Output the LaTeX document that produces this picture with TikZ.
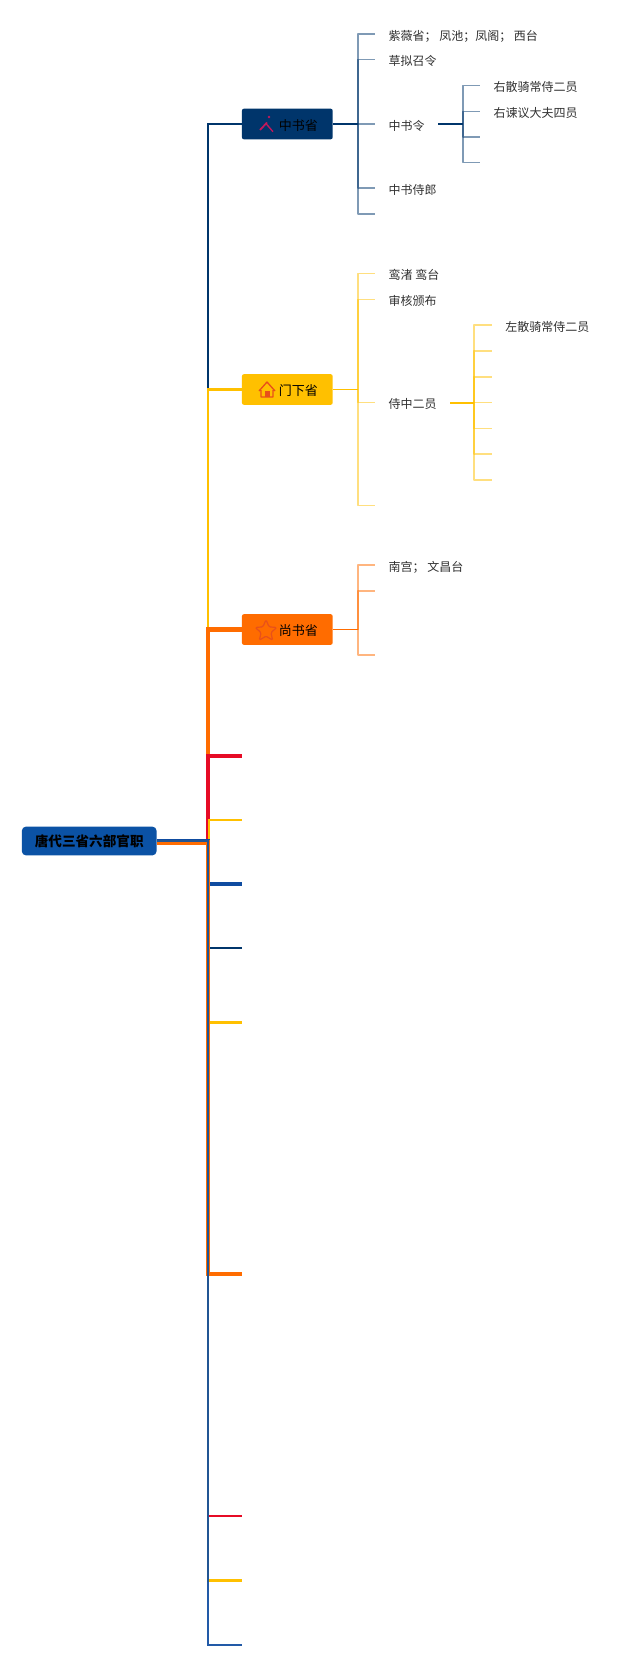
\documentclass[tikz,border=0pt]{standalone}
\usepackage{fontspec}
\setmainfont{Noto Sans CJK SC}
\usetikzlibrary{shapes.geometric}
\definecolor{rootblue}{HTML}{0B52A5}
\definecolor{deepnavy}{HTML}{00356B}
\definecolor{amber}{HTML}{FFC000}
\definecolor{tangerine}{HTML}{FF6C00}
\definecolor{crimson}{HTML}{E60B25}
\definecolor{royal}{HTML}{0F4CA0}
\definecolor{leafink}{HTML}{303030}
\definecolor{wandpink}{HTML}{C2185B}
\definecolor{iconred}{HTML}{E8501A}
\begin{document}
\begin{tikzpicture}[x=.75pt,y=-.75pt,
  rootbox/.style={fill=rootblue, rounded corners=3pt, minimum width=101pt, minimum height=21.5pt, inner sep=0pt, font=\fontsize{10.2}{12}\selectfont\bfseries, text=black},
  branchbox/.style={rounded corners=1.5pt, text width=46pt, inner xsep=11pt, inner ysep=0pt, minimum height=23pt, text height=9.5pt, text depth=.5pt, align=right, font=\fontsize{9.75}{12}\selectfont, text=black},
  leaf/.style={anchor=west, inner xsep=10pt, inner ysep=0pt, text height=9.5pt, text depth=.5pt, font=\fontsize{9}{11}\selectfont, text=leafink},
  mainline/.style={line cap=butt, line join=miter},
  childline/.style={draw opacity=.5, line width=1.1pt, line join=round}]
\useasboundingbox (0,0) rectangle (640,1667);
\node[rootbox] (root) at (89.2,841){唐代三省六部官职};
\coordinate (jroot) at (208,841);
\node[branchbox, fill=deepnavy] (zsbox) at (287.3,124){中书省};
\node[branchbox, fill=amber] (mxbox) at (287.3,389.5){门下省};
\node[branchbox, fill=tangerine] (sgbox) at (287.3,629.5){尚书省};
\coordinate (lb1) at (242,755.7);
\coordinate (lb2) at (242,820);
\coordinate (lb3) at (242,884);
\coordinate (lb4) at (242,948);
\coordinate (lb5) at (242,1022.5);
\coordinate (lb6) at (242,1274);
\coordinate (lb7) at (242,1516);
\coordinate (lb8) at (242,1580.5);
\coordinate (lb9) at (242,1645);
\draw[mainline, deepnavy, line width=1.6pt] (root.east) -- (jroot) |- (zsbox.west);
\draw[mainline, amber, line width=2.2pt] (root.east) -- (jroot) |- (mxbox.west);
\draw[mainline, tangerine, line width=3.4pt] (root.east) -- (jroot) |- (sgbox.west);
\draw[mainline, crimson, line width=3.2pt] (root.east) -- (jroot) |- (lb1);
\draw[mainline, amber, line width=1.8pt] (root.east) -- ([xshift=.8pt]jroot) |- (lb2);
\draw[mainline, royal, line width=2.3pt] (root.east) -- (jroot) |- (lb3);
\draw[mainline, deepnavy, line width=1.8pt] (root.east) -- (jroot) |- (lb4);
\draw[mainline, amber, line width=1.8pt] (root.east) -- (jroot) |- (lb5);
\draw[mainline, tangerine, line width=3.4pt] ([yshift=-1pt]root.east) -- ([yshift=-1pt]jroot) |- (lb6);
\draw[mainline, crimson, line width=2.2pt] (root.east) -- (jroot) |- (lb7);
\draw[mainline, amber, line width=2.2pt] (root.east) -- (jroot) |- (lb8);
\draw[mainline, royal, draw opacity=.92, line width=2.2pt] (root.east) -- (jroot) |- (lb9);
% zhongshu
\coordinate (jzs) at (358,124);
\draw[deepnavy, line width=1.2pt] (zsbox.east) -- (jzs);
\node[leaf] (zs1) at (375,34){紫薇省；\ 凤池；凤阁；\ 西台};
\node[leaf] (zs2) at (375,59.7){草拟召令};
\node[leaf] (zs3) at (375,124){中书令};
\node[leaf] (zs4) at (375,188){中书侍郎};
\coordinate (zs5) at (375,214);
\draw[childline, deepnavy] (jzs) |- (zs1.west);
\draw[childline, deepnavy] (jzs) |- (zs2.west);
\draw[childline, deepnavy] (jzs) -- (zs3.west);
\draw[childline, deepnavy] (jzs) |- (zs4.west);
\draw[childline, deepnavy] (jzs) |- (zs5);
\coordinate (jzl) at (463,124);
\draw[deepnavy, line width=1.2pt] (zs3.east) -- (jzl);
\node[leaf] (zl1) at (480,85.7){右散骑常侍二员};
\node[leaf] (zl2) at (480,111.3){右谏议大夫四员};
\coordinate (zl3) at (480,137);
\coordinate (zl4) at (480,162.7);
\draw[childline, deepnavy] (jzl) |- (zl1.west);
\draw[childline, deepnavy] (jzl) |- (zl2.west);
\draw[childline, deepnavy] (jzl) |- (zl3);
\draw[childline, deepnavy] (jzl) |- (zl4);
% menxia
\coordinate (jmx) at (358,389.5);
\draw[amber, line width=1.2pt] (mxbox.east) -- (jmx);
\node[leaf] (mx1) at (375,273.7){鸾渚 鸾台};
\node[leaf] (mx2) at (375,299.7){审核颁布};
\node[leaf] (mx3) at (375,402.7){侍中二员};
\coordinate (mx4) at (375,505.3);
\draw[childline, amber] (jmx) |- (mx1.west);
\draw[childline, amber] (jmx) |- (mx2.west);
\draw[childline, amber] (jmx) |- (mx3.west);
\draw[childline, amber] (jmx) |- (mx4);
\coordinate (jsz) at (474,402.7);
\draw[amber, line width=1.2pt] (mx3.east) -- (jsz);
\node[leaf] (sz1) at (491.7,325){左散骑常侍二员};
\coordinate (sz2) at (491.7,351);
\coordinate (sz3) at (491.7,377);
\coordinate (sz4) at (491.7,402.7);
\coordinate (sz5) at (491.7,428.3);
\coordinate (sz6) at (491.7,454);
\coordinate (sz7) at (491.7,480);
\draw[childline, amber] (jsz) |- (sz1.west);
\draw[childline, amber] (jsz) |- (sz2);
\draw[childline, amber] (jsz) |- (sz3);
\draw[childline, amber] (jsz) -- (sz4);
\draw[childline, amber] (jsz) |- (sz5);
\draw[childline, amber] (jsz) |- (sz6);
\draw[childline, amber] (jsz) |- (sz7);
% shangshu
\coordinate (jsg) at (358,629.5);
\draw[tangerine, line width=1.2pt] (sgbox.east) -- (jsg);
\node[leaf] (sg1) at (375,565){南宫；\ 文昌台};
\coordinate (sg2) at (375,591);
\coordinate (sg3) at (375,655);
\draw[childline, tangerine] (jsg) |- (sg1.west);
\draw[childline, tangerine] (jsg) |- (sg2);
\draw[childline, tangerine] (jsg) |- (sg3);
% icons
\draw[wandpink, line width=1.3pt] (260,130) -- (267,122.5);
\draw[wandpink, line width=1pt] (265.5,123) -- (273,131.7);
\fill[wandpink] (269,117) circle (1pt);
\draw[iconred, line width=1pt, line join=round] (259,391) -- (267,382) -- (275,391) (261,390) -- (261,397) -- (273,397) -- (273,390);
\fill[iconred] (264.5,391) rectangle (269.5,397);
\node[star, star points=5, star point ratio=2.2, draw=iconred, line width=.9pt, rounded corners=1pt, minimum size=17pt, inner sep=0pt] (sgstar) at (266,631){};
\end{tikzpicture}
\end{document}
